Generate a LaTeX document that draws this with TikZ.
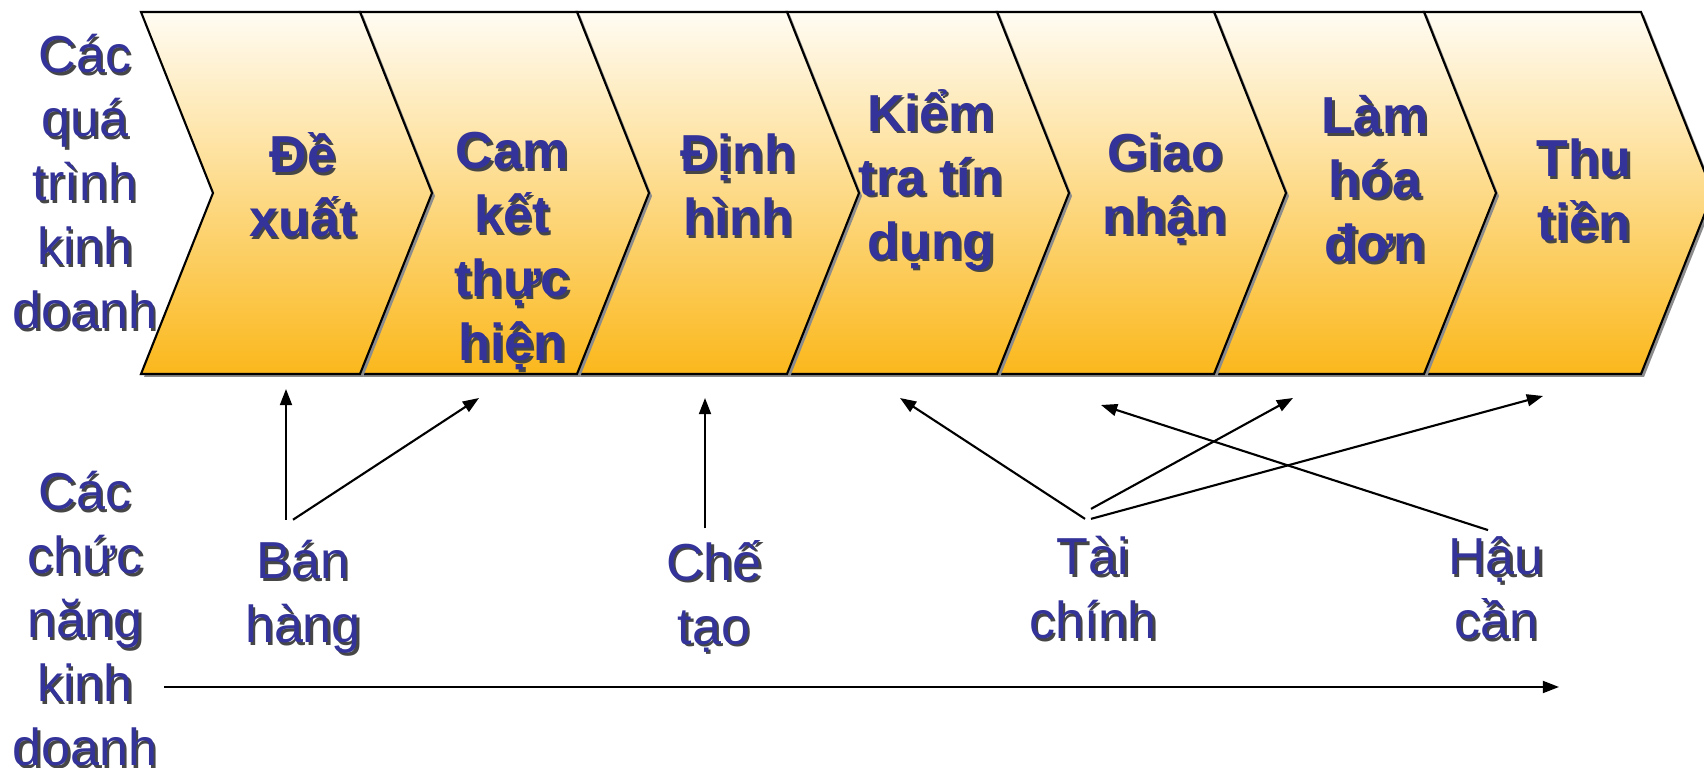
\documentclass[tikz,border=0pt]{standalone}
\usepackage{fontspec}
\setmainfont{Liberation Sans}
\usetikzlibrary{arrows.meta,positioning}

\definecolor{titleblue}{RGB}{51,51,153}
\definecolor{shadegray}{RGB}{70,70,70}
\definecolor{chevtop}{RGB}{255,252,243}
\definecolor{chevbot}{RGB}{251,184,28}

% text with a small drop shadow: style, name, position, text
\newcommand{\shadowed}[4]{%
  \node[#1, text=shadegray, xshift=0.025cm, yshift=-0.025cm] at (#3) {#4};
  \node[#1] (#2) at (#3) {#4};
}

\begin{document}
\begin{tikzpicture}[
  x=0.01cm, y=-0.01cm,
  proc/.style={
    align=center, inner sep=0pt, text=titleblue,
    font=\fontsize{14.8}{18.2}\selectfont\bfseries
  },
  func/.style={
    align=center, inner sep=0pt, text=titleblue,
    font=\fontsize{14.8}{18.2}\selectfont
  },
  chevron/.style={draw=black, line width=0.6pt, top color=chevtop, bottom color=chevbot},
  chevshadow/.style={fill=black!45},
  edge/.style={-{Triangle[length=4.6pt,width=3.4pt]}, line width=0.6pt}
]
\useasboundingbox (0,0) rectangle (1704,768);

% process chevrons, right to left so each shadow falls on the next one
\foreach \x/\w in {1424/217, 1214/210, 997/217, 787/210, 577/210, 360/217, 141/219} {
  \fill[chevshadow] (\x+3,15) -- ++(\w,0) -- ++(72,181) -- ++(-72,181)
    -- ++(-\w,0) -- ++(72,-181) -- cycle;
  \draw[chevron] (\x,12) -- ++(\w,0) -- ++(72,181) -- ++(-72,181)
    -- ++(-\w,0) -- ++(72,-181) -- cycle;
}

\shadowed{proc}{dexuat}{303,185}{Đề\\xuất}
\shadowed{proc}{camket}{512,251}{Cam\\kết\\thực\\hiện}
\shadowed{proc}{dinhhinh}{738,185}{Định\\hình}
\shadowed{proc}{kiemtra}{931,180}{Kiểm\\tra tín\\dụng}
\shadowed{proc}{giaonhan}{1165,188}{Giao\\nhận}
\shadowed{proc}{hoadon}{1375,179}{Làm\\hóa\\đơn}
\shadowed{proc}{thutien}{1584,190}{Thu\\tiền}

\shadowed{func}{quatrinh}{85,182}{Các\\quá\\trình\\kinh\\doanh}
\shadowed{func}{chucnang}{85,619}{Các\\chức\\năng\\kinh\\doanh}

\shadowed{func}{banhang}{303,597}{Bán\\hàng}
\shadowed{func}{chetao}{714,596}{Chế\\tạo}
\shadowed{func}{taichinh}{1093,588}{Tài\\chính}
\shadowed{func}{haucan}{1496,588}{Hậu\\cần}

\coordinate (in-dexuat)   at (286,389);
\coordinate (in-camket)   at (479,398);
\coordinate (in-dinhhinh) at (705,398);
\coordinate (in-kiemtra)  at (900,398);
\coordinate (in-giaonhan) at (1101,405);
\coordinate (in-hoadon)   at (1293,398);
\coordinate (in-thutien)  at (1543,396);
\coordinate (axis-start)  at (164,687);
\coordinate (axis-end)    at (1559,687);

\draw[edge] ([shift={(-17,-20)}]banhang.north) -- (in-dexuat);
\draw[edge] ([shift={(-10,-20)}]banhang.north) -- (in-camket);
\draw[edge] ([shift={(-9,-11)}]chetao.north) -- (in-dinhhinh);
\draw[edge] ([shift={(-8,-17)}]taichinh.north) -- (in-kiemtra);
\draw[edge] ([shift={(-2,-27)}]taichinh.north) -- (in-hoadon);
\draw[edge] ([shift={(-2,-17)}]taichinh.north) -- (in-thutien);
\draw[edge] ([shift={(-8,-6)}]haucan.north) -- (in-giaonhan);
\draw[edge] (axis-start) -- (axis-end);

\end{tikzpicture}
\end{document}
